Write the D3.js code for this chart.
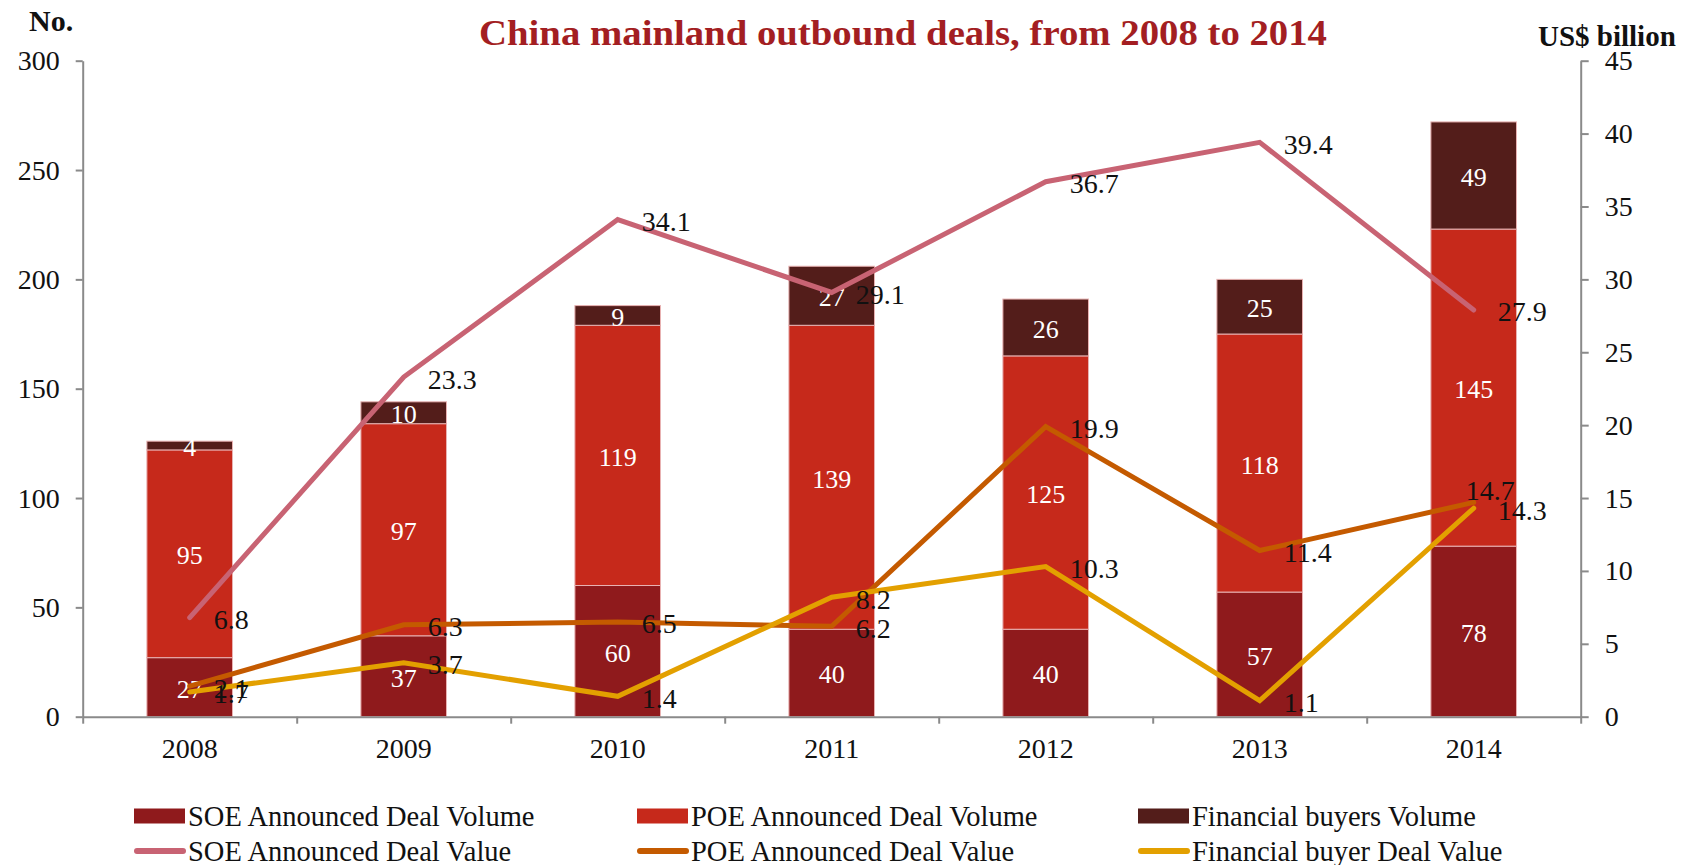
<!DOCTYPE html>
<html lang="en">
<head>
    <meta charset="utf-8">
    <title>China mainland outbound deals</title>
    <script src="https://cdn.jsdelivr.net/npm/d3@7/dist/d3.min.js"></script>
</head>
<style>
    body { margin: 0; background: #fff; }
    svg { position: absolute; left: 0; top: 0; font-family: 'Liberation Serif', 'DejaVu Serif', serif; }
    .axis path, .axis line { stroke: #8a8a8a; stroke-width: 2px; }
    .axis text { font-family: 'Liberation Serif', serif; font-size: 28px; fill: #111; }
    .barlabel { fill: #fff; font-size: 26px; }
    .linelabel { fill: #111; font-size: 28px; }
    .legend text { font-size: 28.5px; fill: #111; }
</style>
<body>
<script type="text/javascript">

    var years = ['2008', '2009', '2010', '2011', '2012', '2013', '2014'];

    // deal volume (No.)
    var soeVolume = [27, 37, 60, 40, 40, 57, 78];
    var poeVolume = [95, 97, 119, 139, 125, 118, 145];
    var finVolume = [4, 10, 9, 27, 26, 25, 49];

    // deal value (US$ billion)
    var soeValue = [6.8, 23.3, 34.1, 29.1, 36.7, 39.4, 27.9];
    var poeValue = [2.1, 6.3, 6.5, 6.2, 19.9, 11.4, 14.7];
    var finValue = [1.7, 3.7, 1.4, 8.2, 10.3, 1.1, 14.3];

    var leftTicks = [0, 50, 100, 150, 200, 250, 300];
    var rightTicks = [0, 5, 10, 15, 20, 25, 30, 35, 40, 45];

    var barSeries = [
        {name: 'SOE Announced Deal Volume', values: soeVolume, color: '#8f1a1c'},
        {name: 'POE Announced Deal Volume', values: poeVolume, color: '#c6291b'},
        {name: 'Financial buyers Volume', values: finVolume, color: '#531d1a'}
    ];
    var lineSeries = [
        {name: 'SOE Announced Deal Value', values: soeValue, color: '#c86373'},
        {name: 'POE Announced Deal Value', values: poeValue, color: '#c45a00'},
        {name: 'Financial buyer Deal Value', values: finValue, color: '#e3a000'}
    ];

    var W = 1708, H = 865;
    var plotLeft = 82.7, plotRight = 1580.7, plotTop = 60.7, plotBottom = 716.7;

    var svg = d3.select('body').append('svg')
        .attr('width', W)
        .attr('height', H);

    var x = d3.scaleBand()
        .domain(years)
        .range([plotLeft, plotRight])
        .paddingInner(0.6)
        .paddingOuter(0.3);

    var xEdge = d3.scaleLinear().domain([0, years.length]).range([plotLeft, plotRight]);

    var yL = d3.scaleLinear().domain([0, 300]).range([plotBottom, plotTop]);
    var yR = d3.scaleLinear().domain([0, 45]).range([plotBottom, plotTop]);

    // stacked bars
    var stackRows = years.map(function (y, i) {
        return {year: y, s0: soeVolume[i], s1: poeVolume[i], s2: finVolume[i]};
    });
    var stacked = d3.stack().keys(['s0', 's1', 's2'])(stackRows);

    var barG = svg.append('g');
    stacked.forEach(function (layer, li) {
        barG.selectAll('.b' + li)
            .data(layer)
            .enter()
            .append('rect')
            .attr('x', function (d) { return x(d.data.year); })
            .attr('y', function (d) { return yL(d[1]); })
            .attr('width', x.bandwidth())
            .attr('height', function (d) { return yL(d[0]) - yL(d[1]); })
            .attr('fill', barSeries[li].color)
            .attr('stroke', '#e8b2b2')
            .attr('stroke-width', 1);
    });

    stacked.forEach(function (layer, li) {
        barG.selectAll('.bl' + li)
            .data(layer)
            .enter()
            .append('text')
            .attr('class', 'barlabel')
            .attr('x', function (d) { return x(d.data.year) + x.bandwidth() / 2; })
            .attr('y', function (d) { return (yL(d[0]) + yL(d[1])) / 2 + 2; })
            .attr('text-anchor', 'middle')
            .attr('dominant-baseline', 'central')
            .text(function (d) { return d[1] - d[0]; });
    });

    // axes
    svg.append('g')
        .attr('class', 'axis')
        .attr('transform', 'translate(' + plotLeft + ',0)')
        .call(d3.axisLeft(yL).tickValues(leftTicks).tickSize(7).tickSizeOuter(0).tickPadding(16));

    svg.append('g')
        .attr('class', 'axis')
        .attr('transform', 'translate(' + plotRight + ',0)')
        .call(d3.axisRight(yR).tickValues(rightTicks).tickSize(8).tickSizeOuter(0).tickPadding(16));

    svg.append('g')
        .attr('class', 'axis')
        .attr('transform', 'translate(0,' + plotBottom + ')')
        .call(d3.axisBottom(xEdge).tickValues(d3.range(years.length + 1)).tickFormat('').tickSize(7).tickSizeOuter(0));

    svg.append('g')
        .attr('class', 'axis')
        .attr('transform', 'translate(0,' + plotBottom + ')')
        .call(d3.axisBottom(x).tickSize(0).tickPadding(21))
        .select('.domain').remove();

    // lines
    var cx = function (i) { return x(years[i]) + x.bandwidth() / 2; };
    var line = d3.line()
        .x(function (d, i) { return cx(i); })
        .y(function (d) { return yR(d); });

    lineSeries.forEach(function (s) {
        svg.append('path')
            .datum(s.values)
            .attr('d', line)
            .attr('fill', 'none')
            .attr('stroke', s.color)
            .attr('stroke-width', 5)
            .attr('stroke-linejoin', 'miter')
            .attr('stroke-linecap', 'round');
    });

    // the 2014 POE label sits above the point in the original to clear 14.3
    var nudge = {'1-6': [-32, -14]};
    lineSeries.forEach(function (s, si) {
        svg.selectAll('.ll' + si)
            .data(s.values)
            .enter()
            .append('text')
            .attr('class', 'linelabel')
            .attr('x', function (d, i) { return cx(i) + 24 + (nudge[si + '-' + i] ? nudge[si + '-' + i][0] : 0); })
            .attr('y', function (d, i) { return yR(d) + 2 + (nudge[si + '-' + i] ? nudge[si + '-' + i][1] : 0); })
            .attr('dominant-baseline', 'central')
            .text(function (d) { return d3.format('.1f')(d); });
    });

    // titles
    svg.append('text')
        .attr('x', 903)
        .attr('y', 33)
        .attr('text-anchor', 'middle')
        .attr('dominant-baseline', 'central')
        .attr('font-weight', 'bold')
        .attr('font-size', 35)
        .attr('fill', '#a31e22')
        .attr('textLength', 848)
        .attr('lengthAdjust', 'spacingAndGlyphs')
        .text('China mainland outbound deals, from 2008 to 2014');

    svg.append('text')
        .attr('x', 29)
        .attr('y', 20)
        .attr('dominant-baseline', 'central')
        .attr('font-weight', 'bold')
        .attr('font-size', 30)
        .attr('fill', '#111')
        .text('No.');

    svg.append('text')
        .attr('x', 1538)
        .attr('y', 36)
        .attr('dominant-baseline', 'central')
        .attr('font-weight', 'bold')
        .attr('font-size', 29)
        .attr('fill', '#111')
        .text('US$ billion');

    // legend
    var legendX = [134, 637, 1138];
    var legendY = [816, 851];
    var legend = svg.append('g').attr('class', 'legend');

    barSeries.forEach(function (s, i) {
        legend.append('rect')
            .attr('x', legendX[i])
            .attr('y', legendY[0] - 7.5)
            .attr('width', 51)
            .attr('height', 15)
            .attr('fill', s.color);
        legend.append('text')
            .attr('x', legendX[i] + 54)
            .attr('y', legendY[0])
            .attr('dominant-baseline', 'central')
            .text(s.name);
    });

    lineSeries.forEach(function (s, i) {
        legend.append('line')
            .attr('x1', legendX[i] + 3)
            .attr('x2', legendX[i] + 49)
            .attr('y1', legendY[1])
            .attr('y2', legendY[1])
            .attr('stroke', s.color)
            .attr('stroke-width', 6)
            .attr('stroke-linecap', 'round');
        legend.append('text')
            .attr('x', legendX[i] + 54)
            .attr('y', legendY[1])
            .attr('dominant-baseline', 'central')
            .text(s.name);
    });

</script>
</body>
</html>
